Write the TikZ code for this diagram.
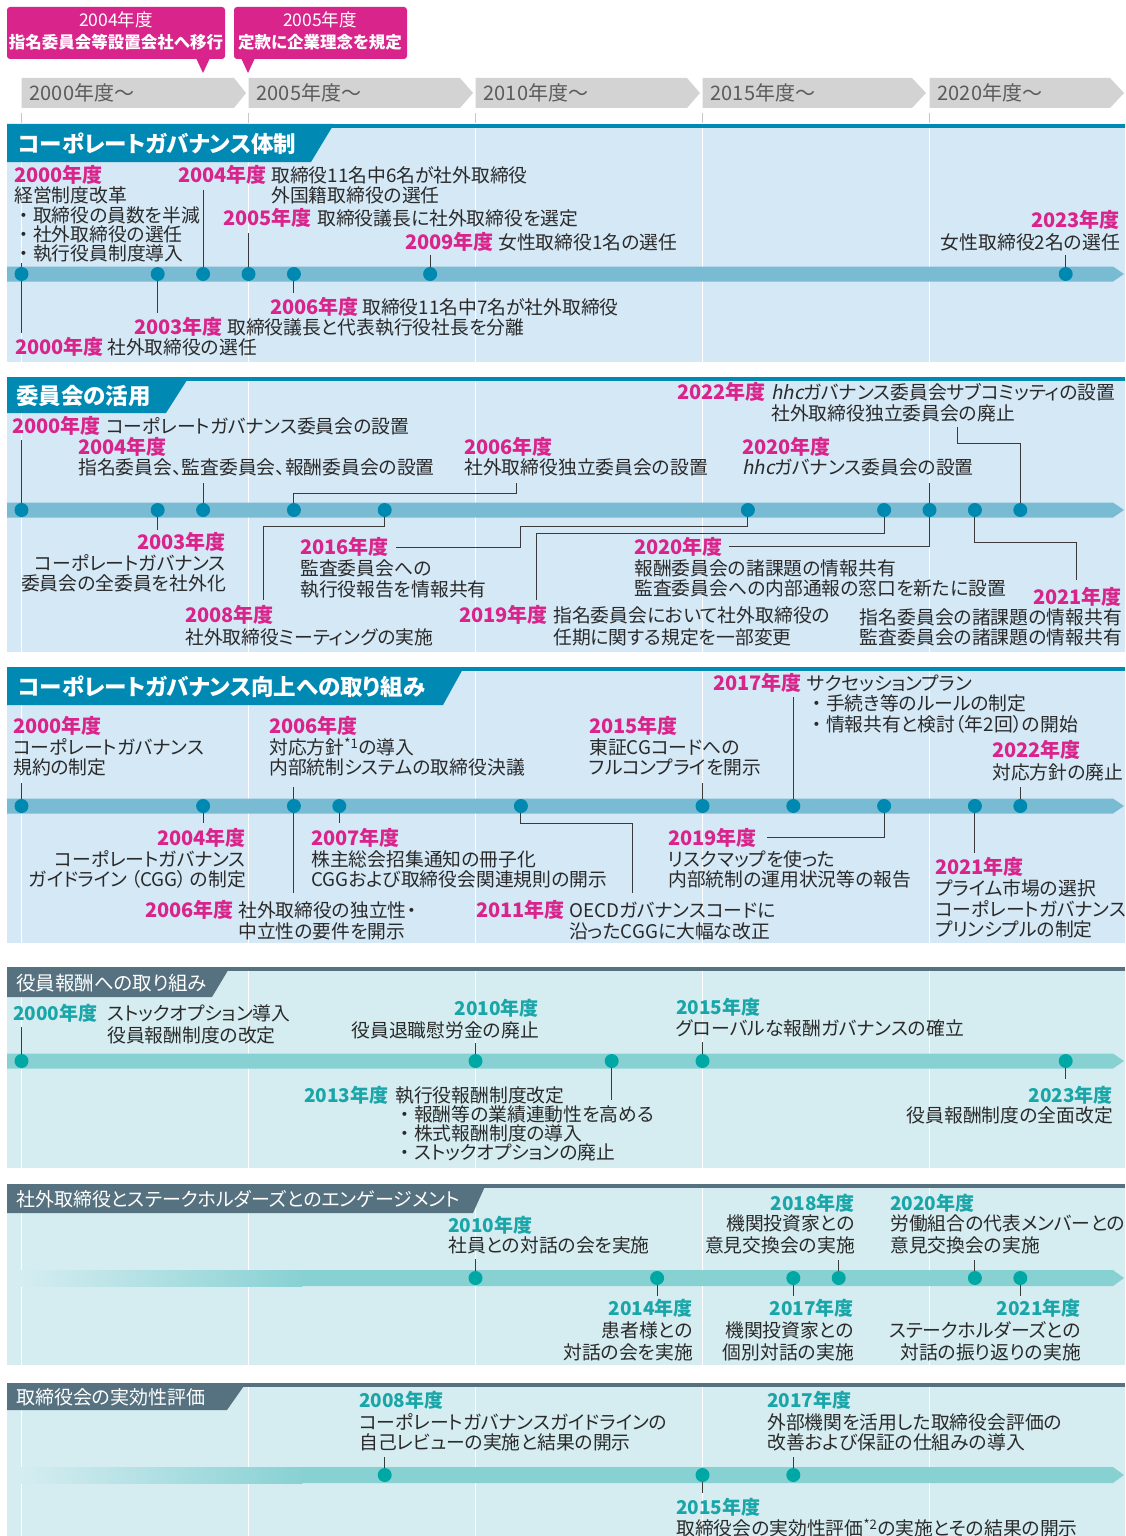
\documentclass[tikz,border=0pt]{standalone}
\usepackage{fontspec}
\setmainfont{Noto Sans CJK JP}[RawFeature=+palt]
\newfontfamily\hhcfont{Noto Sans CJK JP}[FakeSlant=0.2]
\usetikzlibrary{calc}
\pgfdeclarelayer{bgl}
\pgfdeclarelayer{bandl}
\pgfdeclarelayer{linel}
\pgfsetlayers{bgl,bandl,linel,main}
\definecolor{secA}{HTML}{0089B2}
\definecolor{bgA}{HTML}{D4E8F6}
\definecolor{bandA}{HTML}{7ABBD4}
\definecolor{dotA}{HTML}{0089B0}
\definecolor{mag}{HTML}{D9258B}
\definecolor{secB}{HTML}{56717F}
\definecolor{bgB}{HTML}{D5EDF1}
\definecolor{bandB}{HTML}{88D1D3}
\definecolor{dotB}{HTML}{00A8A5}
\definecolor{yrB}{HTML}{1AA6A8}
\definecolor{ink}{HTML}{2A2A2A}
\definecolor{chev}{HTML}{D3D3D4}
\definecolor{chevtxt}{HTML}{5B5B5B}
\definecolor{connc}{HTML}{3A3A3A}
\definecolor{tickc}{HTML}{C8C8C8}
\newcounter{nid}
\newcommand\Txt[4][west]{\stepcounter{nid}\node[txt,anchor=#1] (t\arabic{nid}) at (#2,#3) {#4};}
\newcommand\Yr[4][west]{\stepcounter{nid}\node[yr,anchor=#1] (t\arabic{nid}) at (#2,#3) {#4};}
\newcommand\Dt[3]{\node[dot] (#1) at ({21.5+45.4*(#2-2000)},#3) {};}
\newcommand\bul{\makebox[1em][c]{・}}
\tikzset{
 txt/.style={inner sep=0pt, text=ink, font=\fontsize{18.8}{20}\selectfont},
 yr/.style={inner sep=0pt, text=mag, font=\fontsize{20}{20}\selectfont\bfseries},
 dot/.style={circle, fill=dotA, minimum size=14pt, inner sep=0pt},
 conn/.style={draw=connc, line width=0.9pt},
 divider/.style={draw=white, line width=1.6pt},
 hdrA/.style={inner sep=0pt, text=white, anchor=west, font=\fontsize{22.5}{22}\selectfont\bfseries},
 hdrB/.style={inner sep=0pt, text=white, anchor=west, font=\fontsize{19}{20}\selectfont},
 chevtxt/.style={inner sep=0pt, text=chevtxt, font=\fontsize{20}{20}\selectfont},
 callt/.style={inner sep=0pt, text=white, font=\fontsize{17.5}{18}\selectfont},
 callb/.style={inner sep=0pt, text=white, font=\fontsize{16.5}{18}\selectfont\bfseries},
}
\begin{document}
\begin{tikzpicture}[x=1pt,y=-1pt]
\useasboundingbox (0,0) rectangle (1125,1536);
\begin{pgfonlayer}{bgl}
\fill[white] (0,0) rectangle (1125,1536);
\end{pgfonlayer}
% ---------- callouts ----------
\fill[mag, rounded corners=3pt] (7,7) rectangle (225,59);
\fill[mag] (196,58) -- (210,58) -- (203,73) -- cycle;
\node[callt] (c1a) at (116,20) {2004年度};
\node[callb] (c1b) at (116,42) {指名委員会等設置会社へ移行};
\fill[mag, rounded corners=3pt] (234,7) rectangle (407,59);
\fill[mag] (241,58) -- (255,58) -- (248,73) -- cycle;
\node[callt] (c2a) at (320,20) {2005年度};
\node[callb] (c2b) at (320,42) {定款に企業理念を規定};
% ---------- chevrons ----------
\foreach \a/\b/\c/\l in {21.5/234/246/2000,248.5/460/473/2005,475.5/687/700/2010,702.5/912/926/2015,929.5/1110/1124/2020}{
  \fill[chev] (\a,78) -- (\b,78) -- (\c,93) -- (\b,108) -- (\a,108) -- cycle;
  \node[chevtxt,anchor=west] (ch\l) at (\a+8,93) {\l 年度〜};
  \draw[tickc, line width=1pt] (\a,113) -- (\a,123);
}
% ---------- section backgrounds ----------
\begin{pgfonlayer}{bgl}
\foreach \top/\bot/\tr/\br/\hb/\bgc/\sc in {124/362/334/311/162/bgA/secA, 377/652/189/166/413/bgA/secA, 667/943/464/443/705/bgA/secA, 967/1168/230/212/997/bgB/secB, 1184/1365/486/473/1213/bgB/secB, 1383/1536/246/227/1410/bgB/secB}{
  \fill[\bgc] (7,\top) rectangle (1125,\bot);
  \foreach \x in {21.5,248.5,475.5,702.5,929.5} \draw[divider] (\x,\top) -- (\x,\bot);
  \fill[\sc] (7,\top) rectangle (1125,\top+4);
  \fill[\sc] (7,\top) -- (\tr,\top) -- (\br,\hb) -- (7,\hb) -- cycle;
}
\end{pgfonlayer}
\node[hdrA] (h1) at (18,144) {コーポレートガバナンス体制};
\node[hdrA] (h2) at (16,396) {委員会の活用};
\node[hdrA] (h3) at (18,687) {コーポレートガバナンス向上への取り組み};
\node[hdrB,font=\fontsize{19.5}{20}\selectfont] (h4) at (16,983) {役員報酬への取り組み};
\node[hdrB] (h5) at (16,1199) {社外取締役とステークホルダーズとのエンゲージメント};
\node[hdrB] (h6) at (16,1397) {取締役会の実効性評価};
% ---------- bands ----------
\begin{pgfonlayer}{bandl}
\foreach \yc in {274,510,806}{
  \fill[bandA] (7,\yc-7.5) -- (1113,\yc-7.5) -- (1124,\yc) -- (1113,\yc+7.5) -- (7,\yc+7.5) -- cycle;
}
\fill[bandB] (7,1061-7.5) -- (1113,1061-7.5) -- (1124,1061) -- (1113,1061+7.5) -- (7,1061+7.5) -- cycle;
\foreach \yc in {1278,1475}{
  \shade[left color=bgB, right color=bandB] (20,\yc-8) rectangle (302,\yc+8);
  \fill[bandB] (301.5,\yc-8) -- (1113,\yc-8) -- (1124,\yc) -- (1113,\yc+8) -- (301.5,\yc+8) -- cycle;
}
\end{pgfonlayer}
% ================= SECTION 1 =================
\Dt{a2000}{2000}{274}\Dt{a2003}{2003}{274}\Dt{a2004}{2004}{274}\Dt{a2005}{2005}{274}
\Dt{a2006}{2006}{274}\Dt{a2009}{2009}{274}\Dt{a2023}{2023}{274}
\begin{pgfonlayer}{linel}
\draw[conn] (a2000.center) -- ++(0,-11);
\draw[conn] (a2000.center) -- ++(0,59);
\draw[conn] (a2003.center) -- ++(0,39);
\draw[conn] (a2004.center) -- ++(0,-84);
\draw[conn] (a2005.center) -- ++(0,-41);
\draw[conn] (a2006.center) -- ++(0,19);
\draw[conn] (a2009.center) -- ++(0,-19);
\draw[conn] (a2023.center) -- ++(0,-19);
\end{pgfonlayer}
\Yr{14}{175}{2000年度}
\Txt{14}{195}{経営制度改革}
\Txt{14}{215}{\bul 取締役の員数を半減}
\Txt{14}{234}{\bul 社外取締役の選任}
\Txt{14}{253}{\bul 執行役員制度導入}
\Yr{178}{175}{2004年度}\Txt{271}{175}{取締役11名中6名が社外取締役}
\Txt{271}{195}{外国籍取締役の選任}
\Yr{223}{218}{2005年度}\Txt{317}{218}{取締役議長に社外取締役を選定}
\Yr{405}{242}{2009年度}\Txt{498}{242}{女性取締役1名の選任}
\Yr[east]{1120}{220}{2023年度}
\Txt[east]{1120}{242}{女性取締役2名の選任}
\Yr{270}{307}{2006年度}\Txt{362}{307}{取締役11名中7名が社外取締役}
\Yr{134}{327}{2003年度}\Txt{227}{327}{取締役議長と代表執行役社長を分離}
\Yr{15}{347}{2000年度}\Txt{107}{347}{社外取締役の選任}
% ================= SECTION 2 =================
\Dt{b2000}{2000}{510}\Dt{b2003}{2003}{510}\Dt{b2004}{2004}{510}\Dt{b2006}{2006}{510}
\Dt{b2008}{2008}{510}\Dt{b2016}{2016}{510}\Dt{b2019}{2019}{510}\Dt{b2020}{2020}{510}
\Dt{b2021}{2021}{510}\Dt{b2022}{2022}{510}
\begin{pgfonlayer}{linel}
\draw[conn] (b2000.center) -- ++(0,-70);
\draw[conn] (b2003.center) -- ++(0,20);
\draw[conn] (b2004.center) -- ++(0,-27);
\draw[conn] (b2006.center) |- (516,493) -- (516,483);
\draw[conn] (b2008.center) |- (263,526) -- (263,600);
\draw[conn] (b2016.center) |- (520,526) |- (396,547);
\draw[conn] (b2019.center) |- (536,533) -- (536,600);
\draw[conn] (b2020.center) -- ++(0,-27);
\draw[conn] (b2020.center) |- (729,546);
\draw[conn] (b2021.center) |- (1076,542) -- (1076,580);
\draw[conn] (b2022.center) |- (957,443) -- (957,427);
\end{pgfonlayer}
\Yr{12}{426}{2000年度}\Txt{106}{426}{コーポレートガバナンス委員会の設置}
\Yr{78}{447}{2004年度}
\Txt{78}{467}{指名委員会、監査委員会、報酬委員会の設置}
\Yr{464}{447}{2006年度}
\Txt{464}{467}{社外取締役独立委員会の設置}
\Yr{677}{392}{2022年度}\Txt{771}{392}{{\hhcfont hhc}ガバナンス委員会サブコミッティの設置}
\Txt{771}{413}{社外取締役独立委員会の廃止}
\Yr{742}{447}{2020年度}
\Txt{742}{467}{{\hhcfont hhc}ガバナンス委員会の設置}
\Yr[east]{226}{542}{2003年度}
\Txt[east]{226}{563}{コーポレートガバナンス}
\Txt[east]{226}{583}{委員会の全委員を社外化}
\Yr{300}{547}{2016年度}
\Txt{300}{568}{監査委員会への}
\Txt{300}{589}{執行役報告を情報共有}
\Yr{185}{615}{2008年度}
\Txt{185}{637}{社外取締役ミーティングの実施}
\Yr{459}{615}{2019年度}\Txt{553}{615}{指名委員会において社外取締役の}
\Txt{553}{637}{任期に関する規定を一部変更}
\Yr{634}{547}{2020年度}
\Txt{634}{568}{報酬委員会の諸課題の情報共有}
\Txt{634}{588}{監査委員会への内部通報の窓口を新たに設置}
\Yr[east]{1122}{597}{2021年度}
\Txt[east]{1122}{617}{指名委員会の諸課題の情報共有}
\Txt[east]{1122}{637}{監査委員会の諸課題の情報共有}
% ================= SECTION 3 =================
\Dt{c2000}{2000}{806}\Dt{c2004}{2004}{806}\Dt{c2006}{2006}{806}\Dt{c2007}{2007}{806}
\Dt{c2011}{2011}{806}\Dt{c2015}{2015}{806}\Dt{c2017}{2017}{806}\Dt{c2019}{2019}{806}
\Dt{c2021}{2021}{806}\Dt{c2022}{2022}{806}
\begin{pgfonlayer}{linel}
\draw[conn] (c2000.center) -- ++(0,-23);
\draw[conn] (c2004.center) -- ++(0,17);
\draw[conn] (c2006.center) -- ++(0,-19);
\draw[conn] (c2006.center) -- ++(0,87);
\draw[conn] (c2007.center) -- ++(0,17);
\draw[conn] (c2011.center) |- (632,823) -- (632,893);
\draw[conn] (c2015.center) -- ++(0,-23);
\draw[conn] (c2017.center) -- ++(0,-109);
\draw[conn] (c2019.center) |- (767,837);
\draw[conn] (c2021.center) -- ++(0,47);
\draw[conn] (c2022.center) -- ++(0,-19);
\end{pgfonlayer}
\Yr{13}{726}{2000年度}
\Txt{13}{747}{コーポレートガバナンス}
\Txt{13}{767}{規約の制定}
\Yr{269}{726}{2006年度}
\Txt{269}{747}{対応方針\textsuperscript{*1}の導入}
\Txt{269}{767}{内部統制システムの取締役決議}
\Yr{589}{726}{2015年度}
\Txt{589}{747}{東証CGコードへの}
\Txt{589}{767}{フルコンプライを開示}
\Yr{713}{683}{2017年度}\Txt{807}{683}{サクセッションプラン}
\Txt{807}{703}{\bul 手続き等のルールの制定}
\Txt{807}{724}{\bul 情報共有と検討（年2回）の開始}
\Yr{992}{750}{2022年度}
\Txt{992}{772}{対応方針の廃止}
\Yr[east]{246}{838}{2004年度}
\Txt[east]{246}{859}{コーポレートガバナンス}
\Txt[east]{246}{879}{ガイドライン\,（CGG）\,の制定}
\Yr{145}{910}{2006年度}\Txt{238}{910}{社外取締役の独立性・}
\Txt{238}{931}{中立性の要件を開示}
\Yr{311}{838}{2007年度}
\Txt{311}{859}{株主総会招集通知の冊子化}
\Txt{311}{879}{CGGおよび取締役会関連規則の開示}
\Yr{476}{910}{2011年度}\Txt{569}{910}{OECDガバナンスコードに}
\Txt{569}{931}{沿ったCGGに大幅な改正}
\Yr{668}{838}{2019年度}
\Txt{668}{859}{リスクマップを使った}
\Txt{668}{879}{内部統制の運用状況等の報告}
\Yr{935}{867}{2021年度}
\Txt{935}{888}{プライム市場の選択}
\Txt{935}{909}{コーポレートガバナンス}
\Txt{935}{929}{プリンシプルの制定}
% ================= SECTIONS 4-6 =================
\begin{scope}[yr/.style={inner sep=0pt, text=yrB, font=\fontsize{19}{20}\selectfont\bfseries},
              dot/.style={circle, fill=dotB, minimum size=14pt, inner sep=0pt}]
% ---- section 4 ----
\Dt{d2000}{2000}{1061}\Dt{d2010}{2010}{1061}\Dt{d2013}{2013}{1061}\Dt{d2015}{2015}{1061}\Dt{d2023}{2023}{1061}
\begin{pgfonlayer}{linel}
\draw[conn] (d2000.center) -- ++(0,-34);
\draw[conn] (d2010.center) -- ++(0,-18);
\draw[conn] (d2013.center) -- ++(0,39);
\draw[conn] (d2015.center) -- ++(0,-19);
\draw[conn] (d2023.center) -- ++(0,18);
\end{pgfonlayer}
\Yr{13}{1013}{2000年度}\Txt{107}{1013}{ストックオプション導入}
\Txt{107}{1035}{役員報酬制度の改定}
\Yr[east]{539}{1008}{2010年度}
\Txt[east]{539}{1030}{役員退職慰労金の廃止}
\Yr{676}{1007}{2015年度}
\Txt{676}{1028}{グローバルな報酬ガバナンスの確立}
\Yr{304}{1095}{2013年度}\Txt{395}{1095}{執行役報酬制度改定}
\Txt{395}{1114}{\bul 報酬等の業績連動性を高める}
\Txt{395}{1133}{\bul 株式報酬制度の導入}
\Txt{395}{1152}{\bul ストックオプションの廃止}
\Yr[east]{1113}{1095}{2023年度}
\Txt[east]{1113}{1115}{役員報酬制度の全面改定}
% ---- section 5 ----
\Dt{e2010}{2010}{1278}\Dt{e2014}{2014}{1278}\Dt{e2017}{2017}{1278}\Dt{e2018}{2018}{1278}\Dt{e2020}{2021}{1278}\Dt{e2021}{2022}{1278}
\begin{pgfonlayer}{linel}
\draw[conn] (e2010.center) -- ++(0,-19);
\draw[conn] (e2014.center) -- ++(0,18);
\draw[conn] (e2017.center) -- ++(0,18);
\draw[conn] (e2018.center) -- ++(0,-18);
\draw[conn] (e2020.center) -- ++(0,-18);
\draw[conn] (e2021.center) -- ++(0,18);
\end{pgfonlayer}
\Yr{448}{1225}{2010年度}
\Txt{448}{1245}{社員との対話の会を実施}
\Yr[east]{855}{1203}{2018年度}
\Txt[east]{855}{1223}{機関投資家との}
\Txt[east]{855}{1245}{意見交換会の実施}
\Yr{890}{1203}{2020年度}
\Txt{890}{1223}{労働組合の代表メンバーとの}
\Txt{890}{1245}{意見交換会の実施}
\Yr[east]{693}{1308}{2014年度}
\Txt[east]{693}{1330}{患者様との}
\Txt[east]{693}{1352}{対話の会を実施}
\Yr[east]{854}{1308}{2017年度}
\Txt[east]{854}{1330}{機関投資家との}
\Txt[east]{854}{1352}{個別対話の実施}
\Yr[east]{1081}{1308}{2021年度}
\Txt[east]{1081}{1330}{ステークホルダーズとの}
\Txt[east]{1081}{1352}{対話の振り返りの実施}
% ---- section 6 ----
\Dt{f2008}{2008}{1475}\Dt{f2015}{2015}{1475}\Dt{f2017}{2017}{1475}
\begin{pgfonlayer}{linel}
\draw[conn] (f2008.center) -- ++(0,-18);
\draw[conn] (f2015.center) -- ++(0,18);
\draw[conn] (f2017.center) -- ++(0,-18);
\end{pgfonlayer}
\Yr{359}{1400}{2008年度}
\Txt{359}{1422}{コーポレートガバナンスガイドラインの}
\Txt{359}{1442}{自己レビューの実施と結果の開示}
\Yr{767}{1400}{2017年度}
\Txt{767}{1422}{外部機関を活用した取締役会評価の}
\Txt{767}{1442}{改善および保証の仕組みの導入}
\Yr{676}{1507}{2015年度}
\Txt{676}{1528}{取締役会の実効性評価\textsuperscript{*2}の実施とその結果の開示}
\end{scope}
\end{tikzpicture}
\end{document}
